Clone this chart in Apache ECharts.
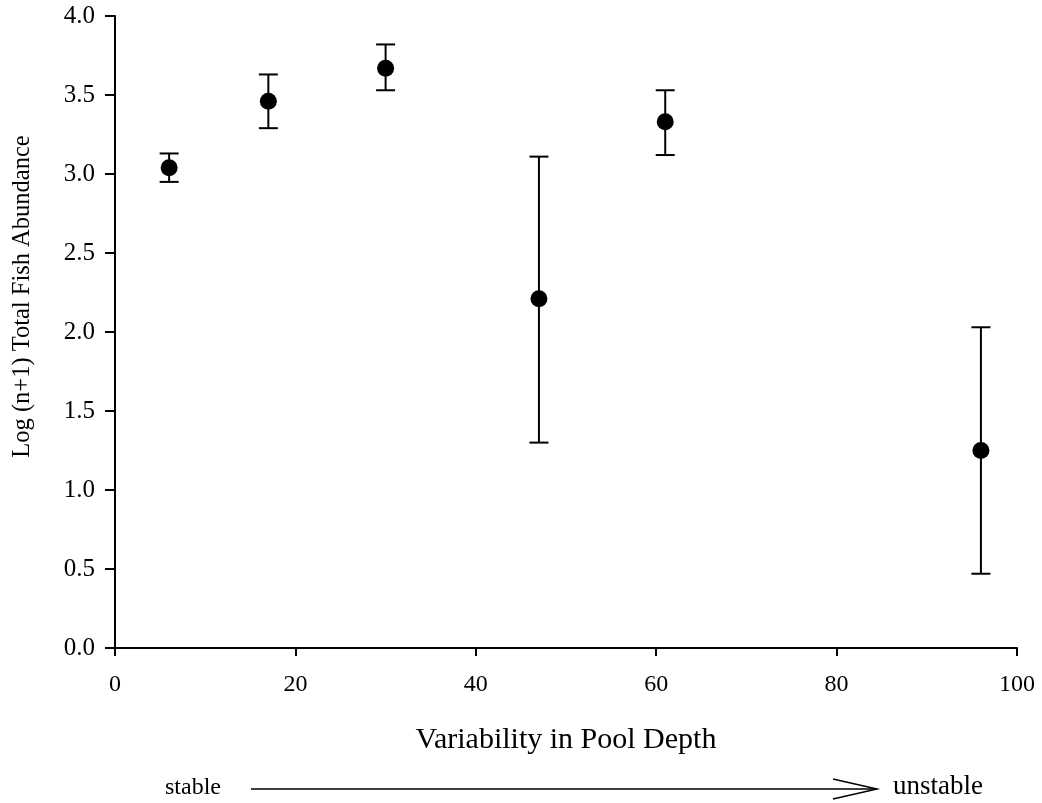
<!DOCTYPE html>
<html>
<head>
<meta charset="utf-8">
<script src="https://cdn.jsdelivr.net/npm/echarts@6/dist/echarts.min.js"></script>
<style>
html,body{margin:0;padding:0;background:#fff;}
#chart{width:1042px;height:803px;}
</style>
</head>
<body>
<div id="chart"></div>
<script>
// Data
var poolVariability = [6, 17, 30, 47, 61, 96];
var meanAbundance   = [3.04, 3.46, 3.67, 2.21, 3.33, 1.25];
var upperBound      = [3.13, 3.63, 3.82, 3.11, 3.53, 2.03];
var lowerBound      = [2.95, 3.29, 3.53, 1.30, 3.12, 0.47];
var xTicks = [0, 20, 40, 60, 80, 100];
var yTicks = [0.0, 0.5, 1.0, 1.5, 2.0, 2.5, 3.0, 3.5, 4.0];

var FONT = '"Liberation Serif", "DejaVu Serif", serif';

var pointData = poolVariability.map(function (x, i) { return [x, meanAbundance[i]]; });
var errData = poolVariability.map(function (x, i) { return [x, lowerBound[i], upperBound[i]]; });

var chart = echarts.init(document.getElementById('chart'), null, {renderer: 'canvas'});

var option = {
  backgroundColor: '#ffffff',
  animation: false,
  grid: {left: 115, right: 25, top: 16, bottom: 155, containLabel: false},
  xAxis: {
    type: 'value',
    min: xTicks[0], max: xTicks[xTicks.length - 1], interval: 20,
    name: 'Variability in Pool Depth',
    nameLocation: 'middle',
    nameGap: 77,
    nameTextStyle: {fontFamily: FONT, fontSize: 30, color: '#000'},
    axisLine: {show: true, onZero: false, lineStyle: {color: '#000', width: 2}},
    axisTick: {show: true, inside: false, length: 8, lineStyle: {color: '#000', width: 2}},
    axisLabel: {fontFamily: FONT, fontSize: 24, color: '#000', margin: 25},
    splitLine: {show: false}
  },
  yAxis: {
    type: 'value',
    min: yTicks[0], max: yTicks[yTicks.length - 1], interval: 0.5,
    axisLine: {show: true, onZero: false, lineStyle: {color: '#000', width: 2}},
    axisTick: {show: true, inside: false, length: 10, lineStyle: {color: '#000', width: 2}},
    axisLabel: {fontFamily: FONT, fontSize: 25, color: '#000', margin: 20,
      formatter: function (v) { return v.toFixed(1); }},
    splitLine: {show: false}
  },
  series: [
    {
      type: 'custom',
      name: 'error',
      data: errData,
      encode: {x: 0, y: [1, 2]},
      renderItem: function (params, api) {
        var x = api.value(0);
        var lo = api.coord([x, api.value(1)]);
        var hi = api.coord([x, api.value(2)]);
        var hw = 9.5;
        var style = {stroke: '#000', lineWidth: 2, fill: null};
        return {
          type: 'group',
          children: [
            {type: 'line', shape: {x1: lo[0], y1: lo[1], x2: hi[0], y2: hi[1]}, style: style},
            {type: 'line', shape: {x1: hi[0] - hw, y1: hi[1], x2: hi[0] + hw, y2: hi[1]}, style: style},
            {type: 'line', shape: {x1: lo[0] - hw, y1: lo[1], x2: lo[0] + hw, y2: lo[1]}, style: style}
          ]
        };
      },
      z: 2
    },
    {
      type: 'scatter',
      name: 'mean',
      data: pointData,
      symbol: 'circle',
      symbolSize: 17,
      itemStyle: {color: '#000', opacity: 1},
      z: 3
    }
  ],
  graphic: [
    {type: 'text', x: 22.5, y: 296.5, rotation: Math.PI / 2,
      style: {text: 'Log (n+1) Total Fish Abundance', fontFamily: FONT, fontSize: 24.5,
        fill: '#000', align: 'center', verticalAlign: 'middle'}},
    {type: 'text', left: 165, top: 776,
      style: {text: 'stable', fontFamily: FONT, fontSize: 24, fill: '#000'}},
    {type: 'line', shape: {x1: 251, y1: 789, x2: 877, y2: 789},
      style: {stroke: '#000', lineWidth: 1.5}},
    {type: 'polyline', shape: {points: [[833, 779], [877, 789], [833, 799]]},
      style: {stroke: '#000', lineWidth: 1.5, fill: null}},
    {type: 'text', left: 893, top: 773,
      style: {text: 'unstable', fontFamily: FONT, fontSize: 27, fill: '#000'}}
  ]
};

chart.setOption(option);
</script>
</body>
</html>
